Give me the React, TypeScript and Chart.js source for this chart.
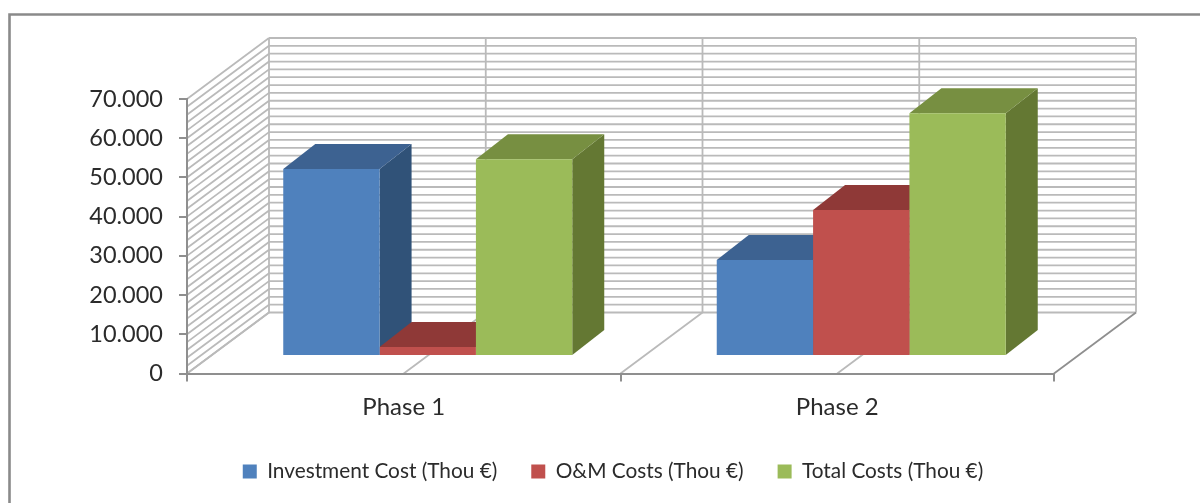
import React, { useEffect, useRef } from "react";
import { Chart, registerables } from "chart.js";

Chart.register(...registerables);

const categories = ["Phase 1", "Phase 2"];
const seriesNames = ["Investment Cost (Thou €)", "O&M Costs (Thou €)", "Total Costs (Thou €)"];
const investmentCost = [47700, 24500];
const omCosts = [2300, 37200];
const totalCosts = [50200, 61900];

const yMax = 70000;
const yMajorStep = 10000;
const yMinorStep = 2000;

const frontColors = ["#4F81BD", "#C0504D", "#9BBB59"];
const topColors = ["#3D6291", "#8F3937", "#778F41"];
const sideColors = ["#305278", "#7A2F2D", "#647833"];

const FONT = "Lato, Carlito, 'Open Sans', sans-serif";
const TEXT = "#2b2b2b";
const AXIS = "#8f8f8f";
const WALL = "#bababa";

const WALL_DX = 82;
const WALL_DY = 61;
const BAR_SHIFT_X = 24;
const BAR_SHIFT_Y = 17.5;
const BAR_DX = 32;
const BAR_DY = 25;

function line(ctx: any, x1: number, y1: number, x2: number, y2: number) {
  ctx.beginPath();
  ctx.moveTo(x1, y1);
  ctx.lineTo(x2, y2);
  ctx.stroke();
}

function poly(ctx: any, pts: number[][], color: string) {
  ctx.fillStyle = color;
  ctx.beginPath();
  pts.forEach((p, i) => (i ? ctx.lineTo(p[0], p[1]) : ctx.moveTo(p[0], p[1])));
  ctx.closePath();
  ctx.fill();
}

const stage3d = {
  id: "stage3d",
  afterLayout(chart: any) {
    const lg = chart.legend;
    if (lg) {
      lg.left += 86;
      lg.right += 86;
      const h = lg.bottom - lg.top;
      lg.top = 427;
      lg.bottom = 427 + h;
    }
  },
  beforeDraw(chart: any) {
    const { ctx, scales } = chart;
    const x = scales.x;
    const y = scales.y;
    const left = x.left;
    const right = x.right;
    const bottom = y.getPixelForValue(0);
    ctx.save();

    // outer frame
    ctx.strokeStyle = "#8a8a8a";
    ctx.lineWidth = 2.6;
    ctx.beginPath();
    ctx.moveTo(9.5, 503);
    ctx.lineTo(9.5, 14.5);
    ctx.lineTo(1200, 14.5);
    ctx.stroke();

    // horizontal wall lines + hatched side wall
    ctx.strokeStyle = WALL;
    ctx.lineWidth = 1.8;
    for (let v = 0; v <= yMax; v += yMinorStep) {
      const py = y.getPixelForValue(v);
      line(ctx, left, py, left + WALL_DX, py - WALL_DY);
      line(ctx, left + WALL_DX, py - WALL_DY, right + WALL_DX, py - WALL_DY);
    }

    // vertical wall lines and floor lines at the half-category positions
    const half = (right - left) / (categories.length * 2);
    for (let i = 0; i <= categories.length * 2; i++) {
      const fx = left + half * i;
      line(ctx, fx + WALL_DX, y.getPixelForValue(yMax) - WALL_DY, fx + WALL_DX, bottom - WALL_DY);
      if (i === categories.length * 2) ctx.strokeStyle = AXIS;
      line(ctx, fx, bottom, fx + WALL_DX, bottom - WALL_DY);
      ctx.strokeStyle = WALL;
    }
    ctx.restore();
  },
  beforeDatasetsDraw(chart: any) {
    const { ctx } = chart;
    ctx.save();
    ctx.translate(BAR_SHIFT_X, -BAR_SHIFT_Y);
    chart.data.datasets.forEach((_: any, d: number) => {
      chart.getDatasetMeta(d).data.forEach((bar: any) => {
        const l = bar.x - bar.width / 2;
        const r = bar.x + bar.width / 2;
        const t = bar.y;
        const b = bar.base;
        poly(ctx, [[r, t], [r + BAR_DX, t - BAR_DY], [r + BAR_DX, b - BAR_DY], [r, b]], sideColors[d]);
        poly(ctx, [[l, t], [r, t], [r + BAR_DX, t - BAR_DY], [l + BAR_DX, t - BAR_DY]], topColors[d]);
      });
    });
  },
  afterDatasetsDraw(chart: any) {
    chart.ctx.restore();
  },
};

export default function App() {
  const ref = useRef<HTMLCanvasElement>(null);
  useEffect(() => {
    const chart = new Chart(ref.current as HTMLCanvasElement, {
      type: "bar",
      data: {
        labels: categories,
        datasets: [investmentCost, omCosts, totalCosts].map((values, i) => ({
          label: seriesNames[i],
          data: values,
          backgroundColor: frontColors[i],
          borderWidth: 0,
          barPercentage: 1,
          categoryPercentage: 2 / 3,
          clip: false as any,
        })),
      },
      options: {
        responsive: false,
        animation: false,
        layout: { padding: { left: 0, right: 146, top: 99, bottom: 0 } },
        plugins: {
          title: { display: false },
          tooltip: { enabled: false },
          legend: {
            display: true,
            position: "bottom",
            labels: {
              boxWidth: 14,
              boxHeight: 14,
              padding: 34,
              color: TEXT,
              font: { family: FONT, size: 20.8 },
            },
          },
        },
        scales: {
          x: {
            grid: { drawOnChartArea: false, color: AXIS, lineWidth: 2, tickLength: 8, offset: true },
            border: { color: AXIS, width: 2 },
            ticks: { color: TEXT, padding: 11, maxRotation: 0, font: { family: FONT, size: 24 } },
            afterFit(s: any) {
              s.height = 64.7;
            },
          },
          y: {
            min: 0,
            max: yMax,
            grid: { drawOnChartArea: false, color: AXIS, lineWidth: 2, tickLength: 8 },
            border: { color: AXIS, width: 2 },
            ticks: {
              stepSize: yMajorStep,
              color: TEXT,
              padding: 16,
              font: { family: FONT, size: 23.5 },
              callback: (v: any) =>
                Number(v) === 0 ? "0" : `${Number(v) / 1000}.000`,
            },
            afterFit(s: any) {
              s.width = 187;
            },
          },
        },
      },
      plugins: [stage3d],
    } as any);
    return () => chart.destroy();
  }, []);
  return (
    <div style={{ position: "fixed", left: 0, top: 0, width: 1200, height: 503, background: "#fff" }}>
      <canvas ref={ref} width={1200} height={503} style={{ display: "block" }} />
    </div>
  );
}
